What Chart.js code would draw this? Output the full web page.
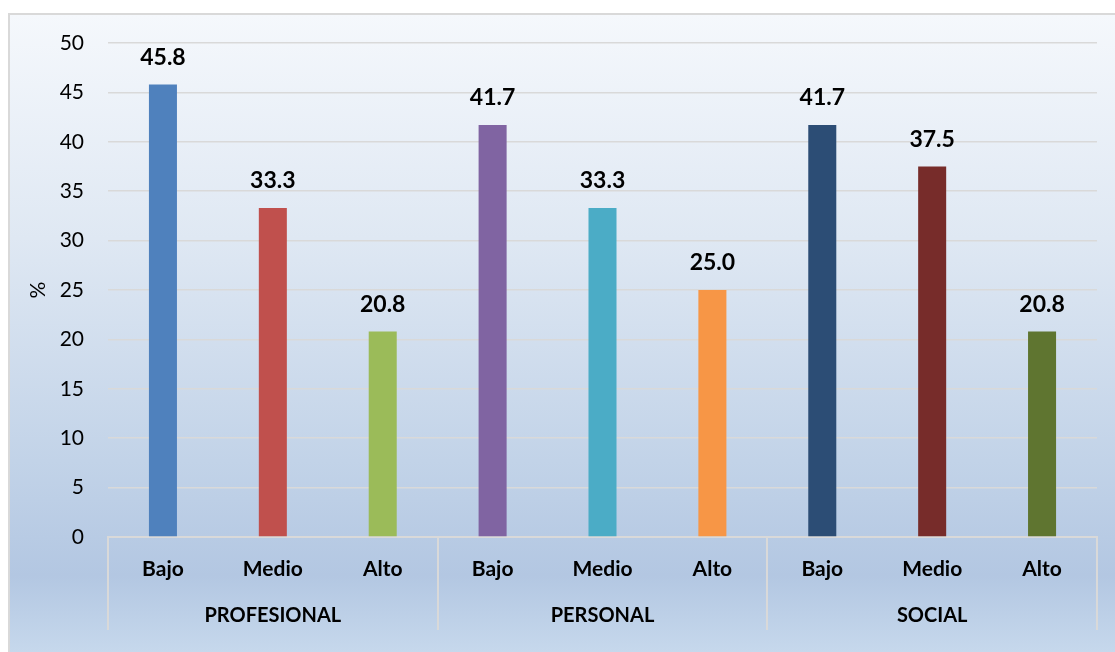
<!DOCTYPE html>
<html lang="es">
<head>
  <meta charset="UTF-8">
  <title>Niveles por dimensión</title>
  <script src="https://cdn.jsdelivr.net/npm/chart.js"></script>
  <style>
    body { margin: 0; background: #fff; }
    #box {
      position: absolute; left: 8px; top: 13px;
      width: 1105px; height: 637px;
      border: 2px solid #d9d9d9;
      background: linear-gradient(to bottom, #f5f8fc 0%, #dfe8f3 35%, #c2d3e8 70%, #b3c7e2 88%, #c6d8ec 100%);
    }
  </style>
</head>
<body>
  <div id="box"><canvas id="chartCanvas"></canvas></div>

  <script>
    const levels = ['Bajo', 'Medio', 'Alto', 'Bajo', 'Medio', 'Alto', 'Bajo', 'Medio', 'Alto'];
    const groups = ['PROFESIONAL', 'PERSONAL', 'SOCIAL'];
    const values = [45.8, 33.3, 20.8, 41.7, 33.3, 25.0, 41.7, 37.5, 20.8];
    const barColors = ['#4f81bd', '#c0504d', '#9bbb59', '#8064a2', '#4bacc6', '#f79646', '#2c4d75', '#772c2a', '#5f7530'];

    const FONT = 'Lato, "Open Sans", sans-serif';

    // value labels over the bars
    const valueLabels = {
      id: 'valueLabels',
      afterDatasetsDraw(chart) {
        const ctx = chart.ctx;
        const meta = chart.getDatasetMeta(0);
        ctx.save();
        ctx.font = 'bold 23px ' + FONT;
        ctx.fillStyle = '#000';
        ctx.textAlign = 'center';
        ctx.textBaseline = 'middle';
        meta.data.forEach((bar, i) => {
          ctx.fillText(values[i].toFixed(1), bar.x, bar.y - 27);
        });
        ctx.restore();
      }
    };

    // vertical separators between the groups under the axis
    const groupLines = {
      id: 'groupLines',
      afterDraw(chart) {
        const ctx = chart.ctx;
        const x = chart.scales.x;
        const step = x.getPixelForValue(1) - x.getPixelForValue(0);
        ctx.save();
        ctx.strokeStyle = '#d9d9d9';
        ctx.lineWidth = 2;
        for (let g = 0; g <= groups.length; g++) {
          const px = Math.round(x.getPixelForValue(g * 3) - step / 2);
          ctx.beginPath();
          ctx.moveTo(px, chart.chartArea.bottom);
          ctx.lineTo(px, chart.chartArea.bottom + 93);
          ctx.stroke();
        }
        ctx.restore();
      }
    };

    const ctx = document.getElementById('chartCanvas').getContext('2d');
    new Chart(ctx, {
      type: 'bar',
      data: {
        labels: levels,
        datasets: [{
          data: values,
          backgroundColor: barColors,
          categoryPercentage: 1,
          barPercentage: 0.255
        }]
      },
      plugins: [valueLabels, groupLines],
      options: {
        responsive: true,
        maintainAspectRatio: false,
        animation: false,
        layout: { padding: { top: 28, right: 18, left: 0, bottom: 0 } },
        plugins: {
          legend: { display: false },
          tooltip: { enabled: false }
        },
        scales: {
          y: {
            min: 0,
            max: 50,
            ticks: { stepSize: 5, padding: 24, color: '#000', font: { family: FONT, size: 21 } },
            grid: { color: '#d9d9d9', lineWidth: 1.5, drawTicks: false },
            border: { display: false },
            title: { display: true, text: '%', color: '#000', font: { family: FONT, size: 21 }, padding: { top: 16, bottom: 0 } },
            afterFit(scale) {
              scale.width = 98;
              scale.paddingTop = 12;
              scale.paddingBottom = 12;
            }
          },
          x: {
            ticks: { padding: 20, color: '#000', font: { family: FONT, size: 21, weight: 'bold' } },
            grid: { drawOnChartArea: false, drawTicks: false },
            border: { color: '#d9d9d9', width: 2 },
            afterFit(scale) { scale.height = 50; }
          },
          x2: {
            type: 'category',
            labels: groups,
            position: 'bottom',
            offset: true,
            ticks: { padding: 9, color: '#000', font: { family: FONT, size: 20, weight: 'bold' } },
            grid: { display: false },
            border: { display: false },
            afterFit(scale) { scale.height = 65; }
          }
        }
      }
    });
  </script>
</body>
</html>
